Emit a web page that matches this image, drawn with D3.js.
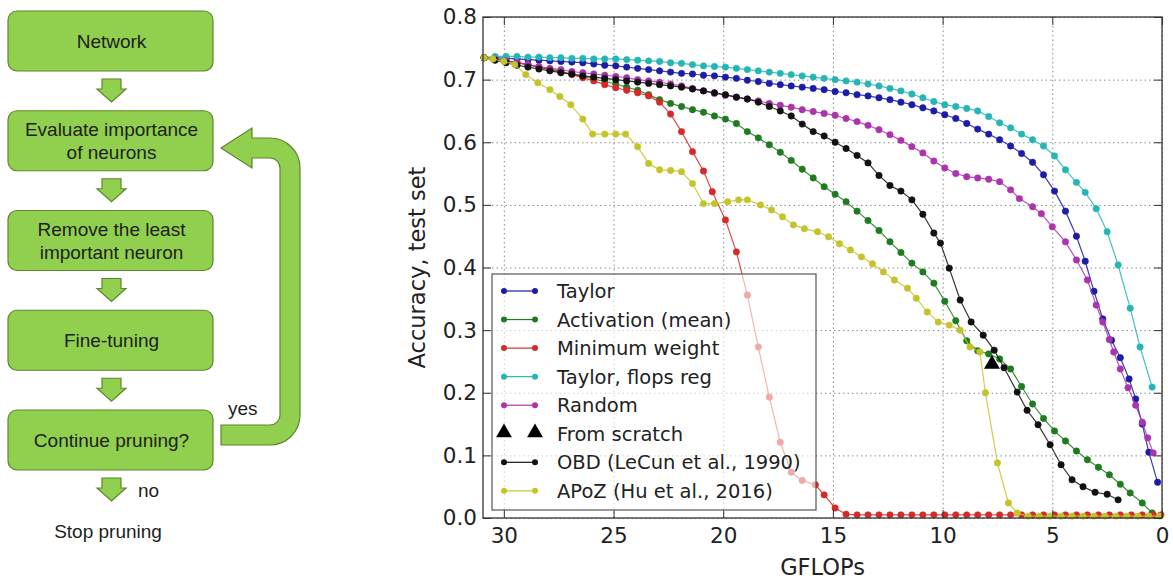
<!DOCTYPE html>
<meta charset="utf-8">
<style>
  body { margin: 0; background: #fff; }
  svg { display: block; }
  .flow text { font-family: "Liberation Sans", Arial, sans-serif; font-size: 19px; fill: #1e1e1e; }
  .shape { fill: #91cf4e; stroke: #5f862e; stroke-width: 1.2; }
  .axis text { font-family: "DejaVu Sans", sans-serif; font-size: 21.5px; fill: #222; }
  .axis line { stroke: #333; stroke-width: 1; }
  .axis path { display: none; }
  .grid line { stroke: #8a8a8a; stroke-width: 1; stroke-dasharray: 1.5,3; }
  .grid path { display: none; }
  .label { font-family: "DejaVu Sans", sans-serif; font-size: 22.5px; fill: #222; }
  .legend text { font-family: "DejaVu Sans", sans-serif; font-size: 19.5px; fill: #222; }
</style>

<body>
  <svg width="1173" height="579"></svg>
</body>
<script src="https://d3js.org/d3.v7.min.js"></script>
<script>
  // ---- chart data (GFLOPs, accuracy) ----
  var gflopTicks = [30, 25, 20, 15, 10, 5, 0];
  var accTicks = [0, 0.1, 0.2, 0.3, 0.4, 0.5, 0.6, 0.7, 0.8];

  var taylor = [[30.9,.735],[30.4,.735],[29.9,.734],[29.4,.733],[28.9,.732],[28.4,.731],[27.9,.730],[27.4,.729],
    [26.9,.728],[26.4,.727],[25.9,.725],[25.4,.723],[24.9,.722],[24.4,.720],[23.9,.718],[23.4,.716],[22.9,.714],
    [22.4,.712],[21.9,.710],[21.4,.709],[20.9,.707],[20.4,.706],[19.9,.704],[19.4,.702],[18.9,.699],[18.4,.697],
    [17.9,.694],[17.4,.692],[16.9,.690],[16.4,.688],[15.9,.686],[15.4,.684],[14.9,.681],[14.4,.679],[13.9,.676],
    [13.4,.674],[12.9,.671],[12.4,.668],[11.9,.664],[11.4,.660],[10.9,.655],[10.4,.650],[9.9,.644],[9.4,.638],
    [8.9,.630],[8.4,.621],[7.9,.613],[7.4,.604],[6.9,.594],[6.4,.582],[5.9,.568],[5.4,.548],[4.9,.522],[4.4,.490],
    [3.9,.450],[3.5,.410],[3.1,.362],[2.7,.318],[2.3,.284],[1.9,.256],[1.5,.222],[1.2,.190],[0.9,.150],[0.6,.105],[0.2,.057]];

  var activation = [[30.9,.735],[30.4,.733],[29.9,.730],[29.4,.727],[28.9,.724],[28.4,.720],[27.9,.717],[27.4,.713],
    [26.9,.709],[26.4,.705],[25.9,.701],[25.4,.697],[24.9,.693],[24.4,.688],[23.9,.683],[23.4,.676],[22.9,.668],
    [22.4,.662],[21.9,.657],[21.4,.652],[20.9,.648],[20.4,.642],[19.9,.637],[19.4,.630],[18.9,.617],[18.4,.607],
    [17.9,.596],[17.4,.584],[16.9,.571],[16.4,.557],[15.9,.543],[15.4,.529],[14.9,.517],[14.4,.505],[13.9,.490],
    [13.4,.475],[12.9,.459],[12.4,.441],[11.9,.424],[11.4,.407],[10.9,.393],[10.4,.375],[9.9,.346],[9.4,.315],
    [8.9,.283],[8.4,.267],[7.9,.262],[7.4,.254],[6.9,.238],[6.4,.210],[5.9,.182],[5.4,.159],[4.9,.139],[4.4,.123],
    [3.9,.107],[3.4,.093],[2.9,.081],[2.4,.069],[1.9,.054],[1.45,.040],[0.9,.024],[0.45,.008]];

  var minWeight = [[30.9,.735],[30.4,.732],[29.9,.730],[29.4,.727],[28.9,.724],[28.4,.720],[27.9,.716],[27.4,.712],
    [26.9,.708],[26.4,.703],[25.9,.698],[25.4,.692],[24.9,.687],[24.4,.683],[23.9,.679],[23.4,.674],[22.9,.664],
    [22.4,.645],[21.9,.617],[21.4,.585],[20.9,.554],[20.5,.521],[19.9,.476],[19.4,.425],[18.9,.356],[18.4,.273],
    [17.9,.193],[17.4,.121],[16.9,.073],[16.4,.060],[15.8,.053],[15.4,.037],[14.9,.016],[14.4,.006],[13.9,.005],
    [13.4,.005],[12.9,.005],[12.4,.005],[11.9,.005],[11.4,.005],[10.9,.005],[10.4,.005],[9.9,.005],[9.4,.005],
    [8.9,.005],[8.4,.005],[7.9,.005],[7.4,.005],[6.9,.005],[6.4,.005],[5.9,.005],[5.4,.005],[4.9,.005],[4.4,.005],
    [3.9,.005],[3.4,.005],[2.9,.005],[2.4,.005],[1.9,.005],[1.4,.005],[0.9,.005],[0.4,.005],[0.05,.005]];

  var taylorFlops = [[30.9,.735],[30.4,.737],[29.9,.737],[29.4,.737],[28.9,.736],[28.4,.736],[27.9,.735],[27.4,.735],
    [26.9,.734],[26.4,.734],[25.9,.733],[25.4,.733],[24.9,.733],[24.4,.732],[23.9,.731],[23.4,.730],[22.9,.729],
    [22.4,.727],[21.9,.726],[21.4,.724],[20.9,.722],[20.4,.721],[19.9,.720],[19.4,.718],[18.9,.716],[18.4,.714],
    [17.9,.712],[17.4,.710],[16.9,.708],[16.4,.706],[15.9,.704],[15.4,.702],[14.9,.700],[14.4,.698],[13.9,.696],
    [13.4,.693],[12.9,.690],[12.4,.686],[11.9,.682],[11.4,.677],[10.9,.671],[10.4,.665],[9.9,.660],[9.4,.657],
    [8.9,.654],[8.4,.650],[7.9,.641],[7.4,.631],[6.9,.623],[6.4,.613],[5.9,.604],[5.4,.594],[4.9,.578],[4.4,.556],
    [3.9,.536],[3.5,.520],[3.0,.494],[2.5,.457],[2.0,.404],[1.45,.335],[1.0,.273],[0.45,.209]];

  var random = [[30.9,.735],[30.4,.733],[29.9,.730],[29.4,.727],[28.9,.724],[28.4,.721],[27.9,.718],[27.4,.716],
    [26.9,.713],[26.4,.711],[25.9,.709],[25.4,.707],[24.9,.705],[24.4,.703],[23.9,.700],[23.4,.698],[22.9,.696],
    [22.4,.693],[21.9,.690],[21.4,.686],[20.9,.682],[20.4,.678],[19.9,.675],[19.4,.672],[18.9,.669],[18.4,.666],
    [17.9,.662],[17.4,.659],[16.9,.656],[16.4,.652],[15.9,.649],[15.4,.646],[14.9,.643],[14.4,.638],[13.9,.633],
    [13.4,.627],[12.9,.620],[12.4,.612],[11.9,.603],[11.4,.593],[10.9,.583],[10.4,.570],[9.9,.559],[9.4,.550],
    [8.9,.545],[8.4,.543],[7.9,.541],[7.4,.537],[6.9,.524],[6.5,.510],[5.9,.497],[5.5,.486],[5.0,.465],[4.4,.441],
    [3.9,.412],[3.4,.380],[3.0,.340],[2.7,.313],[2.4,.285],[2.2,.265],[1.9,.238],[1.55,.208],[1.2,.180],[0.9,.153],
    [0.65,.128],[0.4,.104]];

  var fromScratch = [[7.75,.244]];

  var obd = [[30.9,.735],[30.4,.731],[29.9,.727],[29.4,.723],[28.9,.720],[28.4,.717],[27.9,.714],[27.4,.711],
    [26.9,.709],[26.4,.706],[25.9,.704],[25.4,.702],[24.9,.700],[24.4,.698],[23.9,.696],[23.4,.694],[22.9,.692],
    [22.4,.690],[21.9,.688],[21.4,.685],[20.9,.682],[20.4,.679],[19.9,.676],[19.4,.672],[18.9,.669],[18.4,.664],
    [17.9,.657],[17.4,.650],[16.9,.642],[16.4,.629],[15.9,.617],[15.4,.610],[14.9,.600],[14.4,.590],[13.9,.579],
    [13.4,.567],[12.9,.547],[12.4,.531],[11.9,.522],[11.4,.508],[10.9,.485],[10.4,.455],[10.1,.439],[9.7,.399],
    [9.2,.348],[8.7,.313],[8.15,.292],[7.65,.268],[7.2,.240],[6.6,.201],[6.15,.172],[5.65,.149],[5.1,.117],[4.6,.085],
    [4.1,.061],[3.6,.050],[3.05,.041],[2.5,.038],[2.0,.029]];

  var apoz = [[30.9,.735],[30.5,.733],[30.0,.729],[29.5,.724],[29.0,.708],[28.45,.695],[27.9,.684],[27.45,.673],
    [26.95,.660],[26.4,.637],[25.95,.613],[25.4,.613],[24.9,.613],[24.45,.613],[23.9,.593],[23.4,.566],[22.9,.556],
    [22.4,.555],[21.9,.553],[21.4,.534],[20.9,.502],[20.4,.502],[19.8,.505],[19.3,.508],[18.9,.508],[18.3,.500],
    [17.8,.492],[17.3,.481],[16.8,.468],[16.3,.462],[15.7,.457],[15.2,.449],[14.7,.438],[14.2,.428],[13.7,.417],
    [13.2,.406],[12.7,.393],[12.2,.380],[11.6,.367],[11.2,.351],[10.7,.329],[10.2,.313],[9.7,.308],[9.2,.300],
    [8.75,.273],[8.3,.265],[8.05,.200],[7.5,.088],[7.0,.024],[6.6,.008],[6.1,.003],[5.6,.003],[5.1,.003],[4.6,.003],
    [4.1,.003],[3.6,.003],[3.1,.003],[2.6,.003],[2.1,.003],[1.6,.003],[1.1,.003],[0.6,.003],[0.1,.003]];

  var seriesNames = ["Taylor", "Activation (mean)", "Minimum weight", "Taylor, flops reg", "Random",
    "From scratch", "OBD (LeCun et al., 1990)", "APoZ (Hu et al., 2016)"];
  var seriesData = [taylor, activation, minWeight, taylorFlops, random, fromScratch, obd, apoz];
  var seriesColors = ["#1c1ca8", "#1f7b1f", "#d42a2a", "#25b5b5", "#ab33ab", "#000", "#111", "#c4c42a"];

  // ---- flowchart text ----
  var flowSteps = [["Network"], ["Evaluate importance", "of neurons"], ["Remove the least", "important neuron"],
    ["Fine-tuning"], ["Continue pruning?"]];

  var svg = d3.select("svg");

  // ================= flowchart =================
  var flow = svg.append("g").attr("class", "flow");
  var boxX = 8, boxW = 205, boxH = 60, boxGap = 99.75, boxTop = 11;

  function downArrow(cx, y0) {
    var p = d3.path();
    p.moveTo(cx - 9.5, y0);
    p.lineTo(cx + 9.5, y0);
    p.lineTo(cx + 9.5, y0 + 10);
    p.lineTo(cx + 14.5, y0 + 10);
    p.lineTo(cx, y0 + 23);
    p.lineTo(cx - 14.5, y0 + 10);
    p.lineTo(cx - 9.5, y0 + 10);
    p.closePath();
    flow.append("path").attr("class", "shape").attr("d", p.toString());
  }

  flowSteps.forEach(function (lines, i) {
    var y0 = boxTop + i * boxGap;
    flow.append("rect").attr("class", "shape")
      .attr("x", boxX).attr("y", y0).attr("width", boxW).attr("height", boxH)
      .attr("rx", 9).attr("ry", 9);
    var cy = y0 + boxH / 2;
    lines.forEach(function (t, j) {
      var base = lines.length == 1 ? cy + 7 : cy - 4.5 + j * 23;
      flow.append("text").attr("x", boxX + boxW / 2 + 1).attr("y", base)
        .attr("text-anchor", "middle").text(t);
    });
    downArrow(111.5, y0 + boxH + 8);
  });

  // loop-back arrow from "Continue pruning?" to "Evaluate importance"
  var lp = d3.path();
  lp.moveTo(221, 425);
  lp.lineTo(270, 425);
  lp.arc(270, 415, 10, Math.PI / 2, 0, true);
  lp.lineTo(280, 168);
  lp.arc(270, 168, 10, 0, -Math.PI / 2, true);
  lp.lineTo(252, 158);
  lp.lineTo(252, 168);
  lp.lineTo(221, 148);
  lp.lineTo(252, 128);
  lp.lineTo(252, 138);
  lp.lineTo(270, 138);
  lp.arc(270, 168, 30, -Math.PI / 2, 0, false);
  lp.lineTo(300, 415);
  lp.arc(270, 415, 30, 0, Math.PI / 2, false);
  lp.lineTo(221, 445);
  lp.closePath();
  flow.append("path").attr("class", "shape").attr("d", lp.toString());

  flow.append("text").attr("x", 228).attr("y", 415).text("yes");
  flow.append("text").attr("x", 138).attr("y", 497).text("no");
  flow.append("text").attr("x", 108).attr("y", 538).attr("text-anchor", "middle").text("Stop pruning");

  // ================= chart =================
  var pLeft = 483, pRight = 1162, pTop = 17, pBottom = 518;
  var x = d3.scaleLinear().domain([30.95, 0]).range([pLeft, pRight]);
  var y = d3.scaleLinear().domain([0, 0.8]).range([pBottom, pTop]);

  // grid
  svg.append("g").attr("class", "grid").attr("transform", "translate(0," + pBottom + ")")
    .call(d3.axisBottom(x).tickValues(gflopTicks).tickSize(-(pBottom - pTop)).tickFormat(""));
  svg.append("g").attr("class", "grid").attr("transform", "translate(" + pLeft + ",0)")
    .call(d3.axisLeft(y).tickValues(accTicks).tickSize(-(pRight - pLeft)).tickFormat(""));

  // series
  var line = d3.line().x(function (d) { return x(d[0]); }).y(function (d) { return y(d[1]); });
  var tri = d3.symbol().type(d3.symbolTriangle).size(110);

  seriesData.forEach(function (data, i) {
    var c = seriesColors[i];
    var g = svg.append("g");
    if (seriesNames[i] == "From scratch") {
      g.selectAll("path").data(data).enter().append("path")
        .attr("d", tri)
        .attr("transform", function (d) { return "translate(" + x(d[0]) + "," + (y(d[1]) - 1) + ")"; })
        .attr("fill", c);
      return;
    }
    g.append("path").datum(data).attr("d", line)
      .attr("fill", "none").attr("stroke", c).attr("stroke-width", 1.2).attr("opacity", 0.85);
    g.selectAll("circle").data(data).enter().append("circle")
      .attr("cx", function (d) { return x(d[0]); })
      .attr("cy", function (d) { return y(d[1]); })
      .attr("r", 3.2)
      .attr("fill", c).attr("stroke", c).attr("stroke-width", 0.6);
  });

  // axes, ticks inward on all four sides
  svg.append("g").attr("class", "axis").attr("transform", "translate(0," + pBottom + ")")
    .call(d3.axisBottom(x).tickValues(gflopTicks).tickSizeInner(-8).tickSizeOuter(0).tickPadding(10));
  svg.append("g").attr("class", "axis").attr("transform", "translate(" + pLeft + ",0)")
    .call(d3.axisLeft(y).tickValues(accTicks).tickSizeInner(-8).tickSizeOuter(0).tickPadding(6)
      .tickFormat(d3.format(".1f")));
  svg.append("g").attr("class", "axis").attr("transform", "translate(0," + pTop + ")")
    .call(d3.axisTop(x).tickValues(gflopTicks).tickSizeInner(-8).tickSizeOuter(0).tickFormat(""));
  svg.append("g").attr("class", "axis").attr("transform", "translate(" + pRight + ",0)")
    .call(d3.axisRight(y).tickValues(accTicks).tickSizeInner(-8).tickSizeOuter(0).tickFormat(""));

  svg.append("rect").attr("x", pLeft).attr("y", pTop)
    .attr("width", pRight - pLeft).attr("height", pBottom - pTop)
    .attr("fill", "none").attr("stroke", "#333").attr("stroke-width", 1.3);

  svg.append("text").attr("class", "label")
    .attr("x", (pLeft + pRight) / 2).attr("y", 575).attr("text-anchor", "middle").text("GFLOPs");
  svg.append("text").attr("class", "label")
    .attr("transform", "translate(425," + ((pTop + pBottom) / 2) + ") rotate(-90)")
    .attr("text-anchor", "middle").text("Accuracy, test set");

  // legend
  var legend = svg.append("g").attr("class", "legend");
  legend.append("rect").attr("x", 492).attr("y", 274).attr("width", 324).attr("height", 236)
    .attr("fill", "#fff").attr("fill-opacity", 0.6).attr("stroke", "#555").attr("stroke-width", 1.2);

  seriesNames.forEach(function (name, i) {
    var ly = 291 + i * 28.55, c = seriesColors[i];
    var item = legend.append("g");
    if (name == "From scratch") {
      [504, 535].forEach(function (lx) {
        item.append("path").attr("d", tri).attr("transform", "translate(" + lx + "," + (ly - 1) + ")").attr("fill", c);
      });
    } else {
      item.append("line").attr("x1", 504).attr("x2", 535).attr("y1", ly).attr("y2", ly)
        .attr("stroke", c).attr("stroke-width", 1.2);
      [504, 535].forEach(function (lx) {
        item.append("circle").attr("cx", lx).attr("cy", ly).attr("r", 3).attr("fill", c);
      });
    }
    item.append("text").attr("x", 557).attr("y", ly + 7).text(name);
  });
</script>
